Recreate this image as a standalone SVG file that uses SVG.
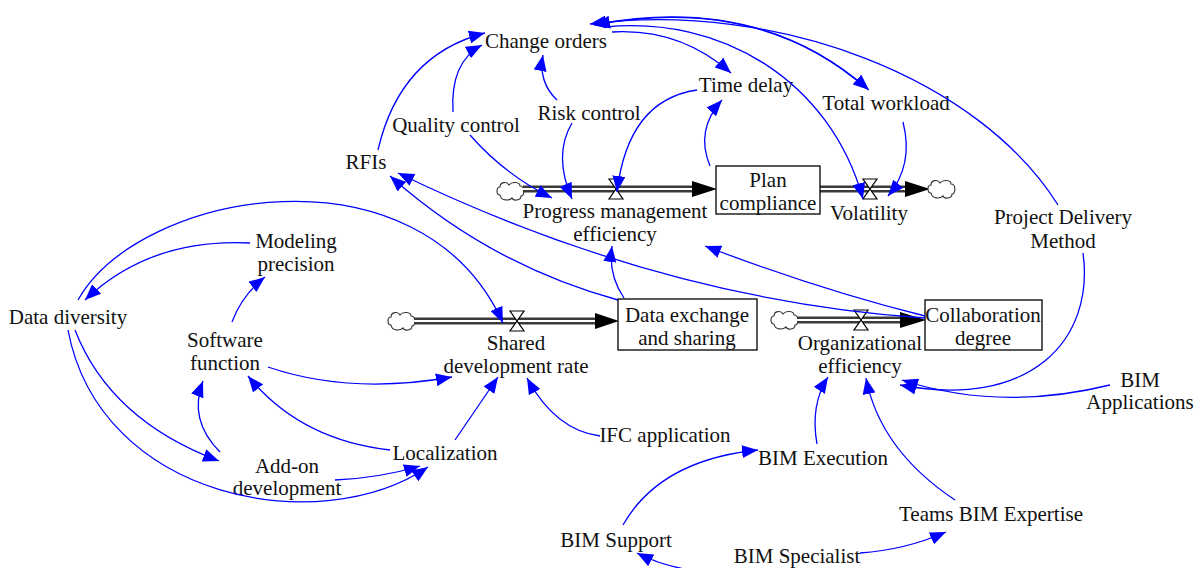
<svg xmlns="http://www.w3.org/2000/svg" width="1200" height="568" viewBox="0 0 1200 568">
<style>
text{font-family:"Liberation Serif","Times New Roman",serif;font-size:21px;fill:#111;text-anchor:middle}
.lk{fill:none;stroke:#0000ff;stroke-width:1.3;marker-end:url(#ah)}
.pipeO{stroke:#3a3a3a;stroke-width:7;fill:none}
.pipeI{stroke:#fff;stroke-width:2.2;fill:none}
.valve{fill:#fff;stroke:#000;stroke-width:1.2}
.stock{fill:#fff;stroke:#000;stroke-width:1.3}
.cloud{fill:#fff;stroke:#333;stroke-width:1.1}
.head{fill:#000}
</style>
<defs>
<marker id="ah" markerUnits="userSpaceOnUse" markerWidth="17" markerHeight="13" refX="16" refY="6.5" orient="auto">
<path d="M0,0 L16,6.5 L0,13 Z" fill="#0000ff"/>
</marker>
<path id="cl" class="cloud" d="M-11,4 C-15,4 -15,-4 -11,-4 C-11,-9 -4,-10 -2,-6 C1,-10 9,-9 9,-5 C14,-5 14,5 10,5 C10,10 2,10 1,7 C-2,10 -10,10 -11,4 Z"/>
</defs>
<rect width="1200" height="568" fill="#fff"/>

<!-- flows -->
<g id="flow-progress">
<use href="#cl" x="511" y="191"/>
<line class="pipeO" x1="523" y1="189" x2="695" y2="189"/>
<line class="pipeI" x1="523" y1="189" x2="695" y2="189"/>
<path class="head" d="M692,181 L717,189 L692,197 Z"/>
<path class="valve" d="M609,179 L623,179 L609,199 L623,199 Z"/>
<text x="615" y="218">Progress management</text>
<text x="615" y="241">efficiency</text>
</g>
<g id="flow-volatility">
<line class="pipeO" x1="820" y1="189" x2="908" y2="189"/>
<line class="pipeI" x1="820" y1="189" x2="908" y2="189"/>
<path class="head" d="M905,181 L930,189 L905,197 Z"/>
<use href="#cl" x="942" y="189"/>
<path class="valve" d="M863,179 L877,179 L863,199 L877,199 Z"/>
<text x="869" y="220">Volatility</text>
</g>
<g id="flow-shared">
<use href="#cl" x="402" y="321"/>
<line class="pipeO" x1="414" y1="321" x2="598" y2="321"/>
<line class="pipeI" x1="414" y1="321" x2="598" y2="321"/>
<path class="head" d="M595,313 L619,321 L595,329 Z"/>
<path class="valve" d="M510,311 L524,311 L510,331 L524,331 Z"/>
<text x="516" y="350">Shared</text>
<text x="516" y="373">development rate</text>
</g>
<g id="flow-org">
<use href="#cl" x="785" y="320"/>
<line class="pipeO" x1="797" y1="320" x2="903" y2="320"/>
<line class="pipeI" x1="797" y1="320" x2="903" y2="320"/>
<path class="head" d="M900,312 L926,320 L900,328 Z"/>
<path class="valve" d="M854,310 L868,310 L854,330 L868,330 Z"/>
<text x="860" y="350">Organizational</text>
<text x="860" y="373">efficiency</text>
</g>

<!-- stocks -->
<g id="plan-compliance"><rect class="stock" x="716" y="166" width="104" height="48"/><text x="768" y="187">Plan</text><text x="768" y="210">compliance</text></g>
<g id="data-exchange"><rect class="stock" x="618" y="299" width="139" height="51"/><text x="687" y="322">Data exchange</text><text x="687" y="345">and sharing</text></g>
<g id="collaboration"><rect class="stock" x="925" y="300" width="117" height="50"/><text x="983" y="322">Collaboration</text><text x="983" y="345">degree</text></g>

<!-- auxiliaries -->
<g id="change-orders"><text x="546" y="48">Change orders</text></g>
<g id="time-delay"><text x="746" y="92">Time delay</text></g>
<g id="total-workload"><text x="886" y="110">Total workload</text></g>
<g id="risk-control"><text x="589" y="120">Risk control</text></g>
<g id="quality-control"><text x="456" y="132">Quality control</text></g>
<g id="rfis"><text x="366" y="169">RFIs</text></g>
<g id="pdm"><text x="1063" y="224">Project Delivery</text><text x="1063" y="248">Method</text></g>
<g id="modeling-precision"><text x="296" y="248">Modeling</text><text x="296" y="271">precision</text></g>
<g id="data-diversity"><text x="68" y="324">Data diversity</text></g>
<g id="software-function"><text x="225" y="347">Software</text><text x="225" y="370">function</text></g>
<g id="bim-applications"><text x="1140" y="387">BIM</text><text x="1140" y="409">Applications</text></g>
<g id="ifc-application"><text x="665" y="442">IFC application</text></g>
<g id="bim-execution"><text x="823" y="465">BIM Execution</text></g>
<g id="localization"><text x="445" y="460">Localization</text></g>
<g id="add-on"><text x="287" y="473">Add-on</text><text x="287" y="495">development</text></g>
<g id="teams-bim"><text x="991" y="521">Teams BIM Expertise</text></g>
<g id="bim-support"><text x="616" y="547">BIM Support</text></g>
<g id="bim-specialist"><text x="797" y="563">BIM Specialist</text></g>

<!-- connectors -->
<g id="connectors">
<path class="lk" d="M378,150 Q400,55 485,33"/>
<path class="lk" d="M453,112 Q450,62 482,45"/>
<path class="lk" d="M557,100 Q538,82 543,55"/>
<path class="lk" d="M612,32 Q680,28 731,73"/>
<path class="lk" d="M598,24 Q760,-6 869,90"/>
<path class="lk" d="M867,89 Q760,-6 594,25"/>
<path class="lk" d="M605,27 C720,15 830,80 863,199"/>
<path class="lk" d="M1058,205 C980,80 780,0 590,24"/>
<path class="lk" d="M697,90 Q628,100 617,192"/>
<path class="lk" d="M710,166 Q695,130 722,100"/>
<path class="lk" d="M903,122 Q914,165 888,196"/>
<path class="lk" d="M470,135 Q505,175 552,198"/>
<path class="lk" d="M572,123 Q553,155 572,199"/>
<path class="lk" d="M618,300 Q490,265 390,176"/>
<path class="lk" d="M925,318 Q660,300 398,173"/>
<path class="lk" d="M624,298 Q608,275 612,246"/>
<path class="lk" d="M925,316 Q820,290 705,246"/>
<path class="lk" d="M78,300 C140,190 420,140 503,323"/>
<path class="lk" d="M250,243 Q150,238 85,300"/>
<path class="lk" d="M232,322 Q242,295 265,277"/>
<path class="lk" d="M268,367 Q350,395 452,377"/>
<path class="lk" d="M390,450 Q300,440 248,376"/>
<path class="lk" d="M220,452 Q188,420 203,381"/>
<path class="lk" d="M455,440 L498,377"/>
<path class="lk" d="M75,330 Q110,420 219,461"/>
<path class="lk" d="M68,330 C100,500 320,540 428,467"/>
<path class="lk" d="M335,480 Q380,478 420,466"/>
<path class="lk" d="M600,436 Q555,430 527,378"/>
<path class="lk" d="M623,525 Q660,460 758,450"/>
<path class="lk" d="M817,444 Q810,405 828,377"/>
<path class="lk" d="M955,500 Q880,450 866,378"/>
<path class="lk" d="M1110,385 Q1000,412 902,380"/>
<path class="lk" d="M1083,253 C1095,340 1030,410 900,385"/>
<path class="lk" d="M690,570 Q660,565 637,553"/>
<path class="lk" d="M860,553 Q905,550 946,532"/>
</g>
</svg>
